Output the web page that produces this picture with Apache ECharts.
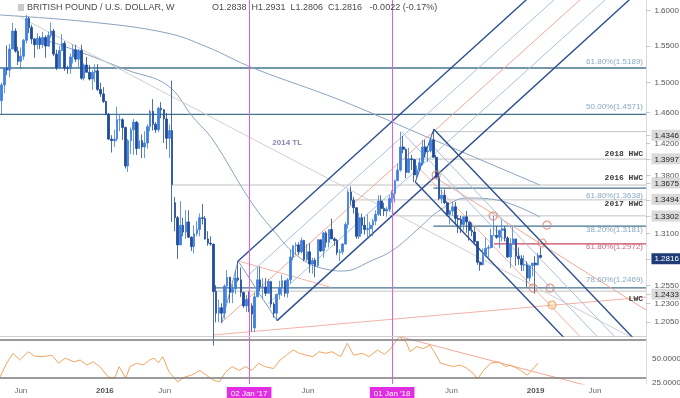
<!DOCTYPE html>
<html>
<head>
<meta charset="utf-8">
<title>GBP/USD weekly</title>
<script src="https://cdn.jsdelivr.net/npm/echarts@6.0.0/dist/echarts.min.js"></script>
<style>
  html, body { margin: 0; padding: 0; background: #fff; }
  #chart { width: 680px; height: 398px; }
</style>
</head>
<body>
<div id="chart"></div>
<script>
const FONT = '"Liberation Sans", Arial, sans-serif';
const MONO = '"Liberation Mono", monospace';
const CLEAR = 'rgba(0,0,0,0)';

// visible window
const xMin = '2015-04-09';
const xMax = '2019-10-09';
const priceMin = 1.1943;
const priceMax = 1.6144;

// weekly candles [open, high, low, close], first week starts 2015-04-13
const firstWeek = '2015-04-13';
const ohlc = [
  [1.4750,1.4990,1.4565,1.4960],[1.4960,1.5200,1.4850,1.5180],[1.5180,1.5498,1.5090,1.5160],
  [1.5160,1.5520,1.5060,1.5450],[1.5450,1.5815,1.5450,1.5700],[1.5700,1.5740,1.5400,1.5420],[1.5420,1.5480,1.5230,1.5280],
  [1.5280,1.5470,1.5170,1.5350],[1.5350,1.5590,1.5300,1.5570],[1.5570,1.5930,1.5530,1.5880],[1.5880,1.5900,1.5670,1.5750],[1.5750,1.5790,1.5520,1.5590],
  [1.5590,1.5600,1.5330,1.5510],[1.5510,1.5670,1.5450,1.5600],[1.5600,1.5630,1.5450,1.5510],[1.5510,1.5690,1.5460,1.5610],
  [1.5610,1.5640,1.5330,1.5490],[1.5490,1.5690,1.5480,1.5640],[1.5640,1.5820,1.5600,1.5700],[1.5700,1.5730,1.5350,1.5380],[1.5380,1.5440,1.5160,1.5190],
  [1.5190,1.5490,1.5190,1.5430],[1.5430,1.5660,1.5420,1.5530],[1.5530,1.5560,1.5150,1.5190],[1.5190,1.5220,1.5110,1.5180],
  [1.5180,1.5390,1.5110,1.5340],[1.5340,1.5510,1.5250,1.5440],[1.5440,1.5510,1.5270,1.5310],[1.5310,1.5450,1.5200,1.5430],
  [1.5430,1.5510,1.5030,1.5050],[1.5050,1.5250,1.5020,1.5230],[1.5230,1.5340,1.5130,1.5130],[1.5130,1.5230,1.5020,1.5040],[1.5040,1.5160,1.4895,1.5130],
  [1.5130,1.5240,1.5000,1.5150],[1.5150,1.5240,1.4880,1.4900],[1.4900,1.4990,1.4800,1.4840],[1.4840,1.4930,1.4720,1.4740],
  // 2016
  [1.4740,1.4750,1.4560,1.4570],[1.4570,1.4590,1.4240,1.4250],[1.4250,1.4300,1.4080,1.4230],[1.4230,1.4370,1.4150,1.4250],
  [1.4250,1.4670,1.4220,1.4500],[1.4500,1.4570,1.4350,1.4500],[1.4500,1.4520,1.4240,1.4400],[1.4400,1.4410,1.3880,1.3910],[1.3910,1.4250,1.3836,1.4230],
  [1.4230,1.4400,1.4060,1.4370],[1.4370,1.4510,1.4050,1.4470],[1.4470,1.4480,1.4050,1.4130],[1.4130,1.4460,1.4130,1.4230],
  [1.4230,1.4310,1.4010,1.4150],[1.4150,1.4350,1.4010,1.4200],[1.4200,1.4440,1.4130,1.4410],[1.4410,1.4630,1.4350,1.4610],
  [1.4610,1.4770,1.4360,1.4440],[1.4440,1.4470,1.4330,1.4370],[1.4370,1.4670,1.4340,1.4650],[1.4650,1.4730,1.4520,1.4630],[1.4630,1.4640,1.4200,1.4510],
  [1.4510,1.4590,1.4120,1.4260],[1.4260,1.4440,1.4010,1.4360],[1.4360,1.5018,1.3229,1.3680],[1.3460,1.3530,1.3120,1.3280],
  [1.3280,1.3300,1.2798,1.2960],[1.2960,1.3480,1.2960,1.3190],[1.3190,1.3280,1.3060,1.3110],[1.3110,1.3370,1.3030,1.3230],
  [1.3230,1.3370,1.3040,1.3050],[1.3050,1.3060,1.2890,1.2940],[1.2940,1.3190,1.2860,1.3090],[1.3090,1.3240,1.3060,1.3140],[1.3140,1.3330,1.3060,1.3280],
  [1.3280,1.3445,1.3200,1.3270],[1.3270,1.3300,1.3020,1.3030],[1.3030,1.3120,1.2950,1.2980],[1.2980,1.3060,1.2950,1.2970],
  [1.2970,1.2970,1.1841,1.2430],[1.2430,1.2500,1.2090,1.2190],[1.2190,1.2340,1.2090,1.2250],[1.2250,1.2300,1.2080,1.2190],[1.2190,1.2510,1.2130,1.2490],
  [1.2490,1.2670,1.2300,1.2590],[1.2590,1.2590,1.2300,1.2420],[1.2420,1.2510,1.2300,1.2460],[1.2460,1.2670,1.2400,1.2580],
  [1.2580,1.2775,1.2540,1.2560],[1.2560,1.2700,1.2370,1.2420],[1.2420,1.2420,1.2250,1.2270],[1.2270,1.2390,1.2200,1.2340],
  // 2017
  [1.2340,1.2430,1.2200,1.2270],[1.2270,1.2300,1.1990,1.2180],[1.2030,1.2415,1.1986,1.2370],[1.2370,1.2700,1.2370,1.2560],[1.2560,1.2710,1.2430,1.2480],
  [1.2480,1.2580,1.2350,1.2480],[1.2480,1.2580,1.2380,1.2410],[1.2410,1.2570,1.2410,1.2540],[1.2540,1.2550,1.2250,1.2290],
  [1.2290,1.2310,1.2140,1.2190],[1.2190,1.2400,1.2109,1.2400],[1.2400,1.2550,1.2340,1.2470],[1.2470,1.2620,1.2380,1.2550],
  [1.2550,1.2550,1.2370,1.2410],[1.2410,1.2580,1.2360,1.2560],[1.2560,1.2905,1.2520,1.2820],[1.2820,1.2950,1.2780,1.2950],
  [1.2950,1.2990,1.2850,1.2960],[1.2960,1.2990,1.2840,1.2880],[1.2880,1.3048,1.2860,1.3010],[1.3010,1.3020,1.2770,1.2790],[1.2790,1.2970,1.2770,1.2880],
  [1.2880,1.2980,1.2640,1.2740],[1.2740,1.2810,1.2630,1.2780],[1.2780,1.2810,1.2589,1.2720],[1.2720,1.3030,1.2700,1.3020],
  [1.3020,1.3020,1.2880,1.2890],[1.2890,1.3110,1.2810,1.3100],[1.3100,1.3120,1.2930,1.2990],[1.2990,1.3140,1.2930,1.3140],[1.3140,1.3268,1.3030,1.3030],
  [1.3030,1.3050,1.2950,1.3010],[1.3010,1.3030,1.2840,1.2870],[1.2870,1.2910,1.2774,1.2880],[1.2880,1.2980,1.2850,1.2970],
  [1.2970,1.3230,1.2960,1.3200],[1.3200,1.3620,1.3150,1.3590],[1.3590,1.3657,1.3430,1.3490],[1.3490,1.3530,1.3330,1.3400],
  [1.3400,1.3400,1.3030,1.3060],[1.3060,1.3340,1.3030,1.3280],[1.3280,1.3330,1.3090,1.3190],[1.3190,1.3290,1.3080,1.3140],[1.3140,1.3320,1.3030,1.3150],
  [1.3150,1.3230,1.3050,1.3190],[1.3190,1.3270,1.3060,1.3240],[1.3240,1.3370,1.3190,1.3320],[1.3320,1.3550,1.3300,1.3480],
  [1.3480,1.3550,1.3300,1.3390],[1.3390,1.3460,1.3300,1.3360],[1.3360,1.3410,1.3290,1.3380],[1.3380,1.3550,1.3350,1.3510],
  // 2018
  [1.3510,1.3610,1.3460,1.3570],[1.3570,1.3740,1.3460,1.3730],[1.3730,1.3940,1.3720,1.3860],[1.3860,1.4345,1.3840,1.4150],[1.4150,1.4290,1.4070,1.4120],
  [1.4120,1.4130,1.3760,1.3830],[1.3830,1.4140,1.3820,1.4000],[1.4000,1.4050,1.3860,1.3990],[1.3990,1.4000,1.3712,1.3800],
  [1.3800,1.3920,1.3750,1.3860],[1.3860,1.4010,1.3840,1.3950],[1.3950,1.4240,1.3920,1.4150],[1.4150,1.4240,1.4020,1.4090],
  [1.4090,1.4130,1.3960,1.4100],[1.4100,1.4240,1.4080,1.4240],[1.4240,1.4377,1.4010,1.4020],[1.4020,1.4050,1.3760,1.3770],[1.3770,1.3830,1.3490,1.3510],
  [1.3510,1.3620,1.3450,1.3550],[1.3550,1.3620,1.3440,1.3460],[1.3460,1.3480,1.3300,1.3320],[1.3320,1.3370,1.3200,1.3360],
  [1.3360,1.3470,1.3300,1.3410],[1.3410,1.3470,1.3200,1.3270],[1.3270,1.3310,1.3100,1.3260],[1.3260,1.3300,1.3100,1.3200],
  [1.3200,1.3290,1.3130,1.3290],[1.3290,1.3362,1.3100,1.3230],[1.3230,1.3230,1.3010,1.3130],[1.3130,1.3220,1.3060,1.3110],[1.3110,1.3170,1.2960,1.3000],
  [1.3000,1.3000,1.2730,1.2760],[1.2760,1.2770,1.2662,1.2730],[1.2730,1.2920,1.2730,1.2840],[1.2840,1.3043,1.2820,1.2920],
  [1.2920,1.2960,1.2790,1.2930],[1.2930,1.3150,1.2920,1.3070],[1.3070,1.3298,1.3070,1.3070],[1.3070,1.3180,1.3030,1.3050],
  [1.3050,1.3140,1.2920,1.3130],[1.3130,1.3257,1.3000,1.3150],[1.3150,1.3180,1.3000,1.3040],[1.3040,1.3060,1.2810,1.2820],[1.2820,1.3040,1.2695,1.2970],
  [1.2970,1.3175,1.2960,1.3030],[1.3030,1.3030,1.2720,1.2830],[1.2830,1.2930,1.2730,1.2800],[1.2800,1.2840,1.2660,1.2730],
  [1.2730,1.2840,1.2660,1.2730],[1.2730,1.2770,1.2477,1.2580],[1.2580,1.2700,1.2540,1.2720],[1.2720,1.2750,1.2600,1.2750],[1.2750,1.2830,1.2405,1.2730],
  // 2019
  [1.2730,1.2870,1.2720,1.2838],[1.2838,1.2931,1.2806,1.2816]
];

// weekly RSI
const rsiPoints = [
  ['2015-04-09',31],['2015-04-26',45.7],['2015-05-12',56],['2015-05-29',49],['2015-06-20',57.7],['2015-07-06',53],
  ['2015-07-28',52.5],['2015-08-19',54],['2015-09-05',45.6],['2015-09-22',51],['2015-10-14',47],['2015-10-30',49],
  ['2015-11-16',43.7],['2015-12-02',47],['2015-12-19',42],['2016-01-10',31],['2016-01-26',30],['2016-02-06',42],
  ['2016-02-23',30],['2016-03-05',42],['2016-03-22',45.6],['2016-04-07',43.7],['2016-04-24',49],['2016-05-05',51],
  ['2016-05-16',46],['2016-05-27',52.5],['2016-06-12',36.6],['2016-07-04',26],['2016-07-22',31],['2016-08-08',33],
  ['2016-08-30',38],['2016-09-15',33],['2016-10-02',28],['2016-10-18',26],['2016-11-04',36.6],['2016-11-20',42],
  ['2016-12-07',38],['2016-12-24',42],['2017-01-09',38],['2017-01-26',45.6],['2017-02-11',42],['2017-03-05',40],
  ['2017-03-22',49],['2017-04-07',54],['2017-04-24',59.5],['2017-05-10',56],['2017-05-27',54],['2017-06-13',52.5],
  ['2017-06-29',57.7],['2017-07-16',56],['2017-08-01',57.7],['2017-08-23',52.5],['2017-09-09',66.6],['2017-09-25',54],
  ['2017-10-17',56],['2017-11-03',52.5],['2017-11-25',59.5],['2017-12-12',55],['2017-12-28',61],['2018-01-19',73.5],
  ['2018-02-05',68],['2018-02-16',57.7],['2018-03-04',63],['2018-03-21',61],['2018-04-07',64.7],['2018-04-18',57.7],
  ['2018-05-04',45.6],['2018-05-21',43.7],['2018-06-06',42],['2018-06-23',43.7],['2018-07-09',40.5],['2018-07-26',35],
  ['2018-08-06',29],['2018-08-22',38],['2018-09-08',45.6],['2018-09-30',47],['2018-10-17',42],['2018-10-28',43.7],
  ['2018-11-13',40.5],['2018-11-24',38],['2018-12-11',33],['2018-12-22',38],['2019-01-07',45.6]
];
const rsiTrend = [['2018-01-21',73.5],['2019-05-12',22]];

// moving averages
const maSlow = [['2015-04-09',1.5928],['2015-11-24',1.5829],['2016-06-07',1.5673],['2016-09-17',1.5478],['2017-01-12',1.5189],
  ['2017-08-21',1.4759],['2018-03-13',1.4315],['2019-01-12',1.3675]];
const maFast = [['2015-07-20',1.5603],['2015-11-06',1.5394],['2016-02-26',1.5161],['2016-06-07',1.4959],['2016-08-12',1.4535],
  ['2016-10-02',1.4238],['2017-01-04',1.3492],['2017-03-04',1.3134],['2017-05-12',1.2808],['2017-07-27',1.2671],
  ['2017-08-29',1.2660],['2017-11-13',1.2785],['2018-01-03',1.2900],['2018-03-05',1.3134],['2018-05-03',1.3372],
  ['2018-07-11',1.3517],['2018-09-25',1.3492],['2019-01-12',1.3288]];

// trendlines and pitchforks [date, price]
const tl2014 = [['2015-05-30',1.5900],['2019-10-09',1.1847]];
const tl2014Label = ['2017-04-09',1.4200];
const pf1Upper = [['2016-12-05',1.2775],['2019-01-05',1.6290]];
const pf1Lower = [['2017-03-14',1.2109],['2019-09-24',1.6290]];
const pf1Median = [['2016-10-25',1.2094],['2019-05-22',1.6290]];
const pf1HalfUp = [['2016-12-31',1.2614],['2019-03-17',1.6290]];
const pf1HalfDn = [['2017-02-18',1.2289],['2019-07-25',1.6290]];
const pf1Handle = [['2016-10-25',1.2094],['2016-12-05',1.2775],['2017-03-14',1.2109]];
const pf2Upper = [['2018-04-17',1.4377],['2019-09-24',1.1844]];
const pf2Lower = [['2018-03-01',1.3712],['2019-04-01',1.1847]];
const pf2Median = [['2018-01-25',1.4345],['2019-06-27',1.1850]];
const pf2HalfUp = [['2018-04-05',1.4208],['2019-08-10',1.1850]];
const pf2HalfDn = [['2018-03-12',1.3876],['2019-05-14',1.1850]];
const pf2Handle = [['2018-04-17',1.4377],['2018-03-01',1.3712]];
const tlDown2018 = [['2018-04-23',1.3761],['2019-10-09',1.2225]];
const tlDown2016 = [['2016-12-05',1.2775],['2017-07-27',1.2479]];
const tlUp2016 = [['2016-10-02',1.1954],['2019-10-09',1.2368]];

const pivots = [['2018-04-23',1.3798],['2018-09-15',1.3300],['2019-01-30',1.3193],['2019-01-18',1.2982],
  ['2018-12-26',1.2468],['2019-02-07',1.2468]];
const pivotTarget = ['2019-02-12',1.2279];

// horizontal levels
const levelPrices = [1.5189, 1.4571, 1.4346, 1.3997, 1.3675, 1.3638, 1.3494, 1.3302, 1.3181, 1.2972, 1.2469, 1.2433];
const levelStarts = ['2015-04-09','2015-04-09','2018-04-16','2018-01-22','2016-06-20','2018-04-16',
  '2017-09-18','2017-12-25','2018-04-16','2018-09-17','2016-10-03','2016-10-03'];
const levelKinds = ['fib','fib','gray','gray','gray','fib','gray','gray','fib','red','fib','gray'];
const fibLevels = [[61.8,1.5189],[50.0,1.4571],[61.8,1.3638],[38.2,1.3181],[61.8,1.2972],[78.6,1.2469]];
const fibSides = ['top','top','bottom','bottom','bottom','top'];
const namedLevels = [['2018 HWC',1.3997,'top'],['2016 HWC',1.3675,'top'],['2017 HWC',1.3494,'bottom'],['LWC',1.2433,'bottom']];

// price scale tags
const priceTicks = [1.6, 1.55, 1.5, 1.46, 1.42, 1.38, 1.31, 1.255, 1.23, 1.205];
const boxedTags = [1.4346, 1.3997, 1.3675, 1.3494, 1.3302, 1.2433];

// time labels
const xTickDates = ['2015-06-01','2016-01-01','2016-06-01','2017-01-02','2017-06-01','2018-01-01','2018-06-01','2019-01-01','2019-06-01'];
const xTickLabels = ['Jun','2016','Jun',"02 Jan '17",'Jun',"01 Jan '18",'Jun','2019','Jun'];
const xTickKinds = ['','yr','','hl','','hl','','yr',''];
const markedDates = ['2017-01-02','2018-01-01'];

const t = s => Date.parse(s + 'T00:00:00Z');
const pts = arr => arr.map(p => [t(p[0]), p[1]]);

const weeks = ohlc.map((_, i) => t(firstWeek) + i * 7 * 864e5);

const last = ohlc[ohlc.length - 1];
const prevClose = ohlc[ohlc.length - 2][3];
const chg = last[3] - prevClose;
const headerValues = 'O' + last[0].toFixed(4) + '  H' + last[1].toFixed(4) + '  L' + last[2].toFixed(4) +
  '  C' + last[3].toFixed(4) + '   ' + (chg >= 0 ? '+' : '') + chg.toFixed(4) + ' (' + (chg / prevClose * 100).toFixed(2) + '%)';

function seg(data, color, width, smooth) {
  return { type: 'line', data: pts(data), symbol: 'none', silent: true, smooth: smooth || false, z: 1,
    lineStyle: { color: color, width: width } };
}

// price scale tag: small tick dash + value (optionally boxed)
function priceTag(p, kind) {
  const look = {
    plain: { color: '#555' },
    box: { color: '#222', backgroundColor: '#dadada' },
    last: { color: '#fff', backgroundColor: '#1f3c78' }
  }[kind];
  return { yAxis: p, lineStyle: { color: CLEAR },
    label: { show: true, position: 'end', distance: 0,
      formatter: '{tk|–}{v|' + p.toFixed(4) + '}', fontSize: 8, fontFamily: FONT,
      rich: {
        tk: { color: '#9a9a9a', fontSize: 8, fontFamily: FONT, padding: [0, 1, 0, 0] },
        v: Object.assign({ fontSize: 8, fontFamily: FONT, padding: [2, 4, 1, 3] }, look)
      } } };
}

function levelText(p, text, side, look) {
  return { yAxis: p, lineStyle: { color: CLEAR },
    label: Object.assign({ show: true, position: side === 'top' ? 'insideEndTop' : 'insideEndBottom',
      distance: 1, padding: [0, 2, 0, 0], formatter: text, fontSize: 8, fontFamily: FONT }, look) };
}

const levelColors = { fib: '#44738f', gray: '#c2c2c2', red: '#c9485f' };

const series = [];
levelPrices.forEach((p, i) => {
  series.push(seg([[levelStarts[i], p], [xMax, p]], levelColors[levelKinds[i]], levelKinds[i] === 'gray' ? 1 : 1.3));
});
series.push(seg(maSlow, '#8aa3bf', 1, 0.4));
series.push(seg(maFast, '#8aa3bf', 1, 0.4));
const tlSeries = seg(tl2014, '#cfcfcf', 1);
tlSeries.markPoint = { silent: true, symbol: 'circle', symbolSize: 0,
  data: [{ coord: [t(tl2014Label[0]), tl2014Label[1]], label: { show: true, position: 'inside', formatter: '2014 TL',
    color: '#8c82b4', fontWeight: 'bold', fontSize: 8, fontFamily: FONT } }] };
series.push(tlSeries);
series.push(seg(tlUp2016, '#f2b2a6', 1));
series.push(seg(tlDown2016, '#f2b2a6', 1));
series.push(seg(tlDown2018, '#f2a89a', 1));
series.push(seg(pf1Median, '#f2a89a', 1));
series.push(seg(pf1HalfUp, '#a9c0de', 1));
series.push(seg(pf1HalfDn, '#a9c0de', 1));
series.push(seg(pf1Handle, '#7f9cc8', 1));
series.push(seg(pf1Upper, '#2d4f92', 1.4));
series.push(seg(pf1Lower, '#2d4f92', 1.4));
series.push(seg(pf2Median, '#a9c0de', 1));
series.push(seg(pf2HalfUp, '#a9c0de', 1));
series.push(seg(pf2HalfDn, '#f2b2a6', 1));
series.push(seg(pf2Handle, '#2d4f92', 1));
series.push(seg(pf2Upper, '#2d4f92', 1.4));
series.push(seg(pf2Lower, '#2d4f92', 1.4));

const tagLines = [];
priceTicks.forEach(p => tagLines.push(priceTag(p, 'plain')));
boxedTags.forEach(p => tagLines.push(priceTag(p, 'box')));
tagLines.push(priceTag(last[3], 'last'));
fibLevels.forEach((f, i) => {
  const red = f[1] === 1.2972;
  tagLines.push(levelText(f[1], f[0].toFixed(2) + '%(' + f[1].toFixed(4) + ')', fibSides[i],
    { color: red ? '#d06a7c' : '#86a9c3' }));
});
namedLevels.forEach(n => tagLines.push(levelText(n[1], n[0], n[2],
  { color: '#3a3a3a', fontWeight: 'bold', fontFamily: MONO })));
markedDates.forEach(d => tagLines.push({ xAxis: t(d), lineStyle: { color: '#e35ce3', width: 1 }, label: { show: false } }));

series.push({
  type: 'candlestick', z: 3,
  data: weeks.map((d, i) => [d, ohlc[i][0], ohlc[i][3], ohlc[i][2], ohlc[i][1]]),
  encode: { x: 0, y: [1, 2, 3, 4] },
  barWidth: 2.2,
  itemStyle: { color: '#3f7fdc', color0: '#1f4a98', borderColor: '#3f7fdc', borderColor0: '#1f4a98', borderWidth: 0.8 },
  markLine: { silent: true, symbol: ['none', 'none'], animation: false,
    lineStyle: { type: 'solid' }, data: tagLines }
});

series.push({
  type: 'scatter', z: 4, silent: true, symbol: 'circle', symbolSize: 8,
  itemStyle: { color: 'rgba(255,255,255,0)', borderColor: '#d9826f', borderWidth: 1.2 },
  data: pts(pivots).concat([{ value: [t(pivotTarget[0]), pivotTarget[1]],
    itemStyle: { color: 'rgba(246,196,120,0.35)', borderColor: '#e3a45a' } }])
});

series.push(Object.assign(seg(rsiTrend, '#f2a89a', 1), { xAxisIndex: 1, yAxisIndex: 1 }));
series.push({
  type: 'line', xAxisIndex: 1, yAxisIndex: 1, data: pts(rsiPoints), symbol: 'none', silent: true, z: 3,
  lineStyle: { color: '#f0a55e', width: 1 },
  markLine: { silent: true, symbol: ['none', 'none'], animation: false, lineStyle: { type: 'solid' },
    data: [
      { yAxis: 70, lineStyle: { color: '#7a7a7a', width: 1.6 }, label: { show: false } },
      { yAxis: 30, lineStyle: { color: '#7a7a7a', width: 1.6 }, label: { show: false } },
      { yAxis: 50, lineStyle: { color: CLEAR }, label: { show: true, position: 'end', distance: 2, padding: [0, 0, 0, 4],
        formatter: '50.0000', color: '#555', fontSize: 8, fontFamily: FONT } },
      { yAxis: 25, lineStyle: { color: CLEAR }, label: { show: true, position: 'end', distance: 2, padding: [0, 0, 0, 4],
        formatter: '25.0000', color: '#555', fontSize: 8, fontFamily: FONT } }
    ].concat(markedDates.map(d => ({ xAxis: t(d), lineStyle: { color: '#e35ce3', width: 1 }, label: { show: false } })))
  }
});

function xLabel(value) {
  for (let i = 0; i < xTickDates.length; i++) {
    if (Math.abs(t(xTickDates[i]) - value) < 3 * 864e5) {
      return xTickKinds[i] ? '{' + xTickKinds[i] + '|' + xTickLabels[i] + '}' : xTickLabels[i];
    }
  }
  return '';
}

const chart = echarts.init(document.getElementById('chart'), null, { renderer: 'canvas' });
chart.setOption({
  animation: false,
  backgroundColor: '#ffffff',
  title: [
    { text: 'BRITISH POUND / U.S. DOLLAR, W', left: 27, top: 3, padding: 0,
      textStyle: { fontSize: 9, fontWeight: 'normal', color: '#4a4a4a', fontFamily: FONT } },
    { text: headerValues, left: 212, top: 3, padding: 0,
      textStyle: { fontSize: 9, fontWeight: 'normal', color: '#4a4a4a', fontFamily: FONT } }
  ],
  graphic: [{ type: 'rect', shape: { x: 18, y: 4, width: 6, height: 7 }, style: { fill: '#c9c9c9' } }],
  grid: [
    { left: 0, right: 34, top: 0, height: 336, containLabel: false, outerBoundsMode: 'none' },
    { left: 0, right: 34, top: 337, height: 47, containLabel: false, outerBoundsMode: 'none' }
  ],
  xAxis: [
    { type: 'value', gridIndex: 0, min: t(xMin), max: t(xMax),
      axisLine: { show: true, lineStyle: { color: '#cfcfcf' } }, axisTick: { show: false },
      axisLabel: { show: false }, splitLine: { show: false } },
    { type: 'value', gridIndex: 1, min: t(xMin), max: t(xMax),
      axisLine: { show: false }, axisTick: { show: false }, splitLine: { show: false },
      axisLabel: { customValues: xTickDates.map(t), formatter: xLabel, fontSize: 8, color: '#6a6a6a', margin: 3,
        fontFamily: FONT,
        rich: {
          hl: { backgroundColor: '#e22ee2', color: '#fff', padding: [3, 4, 2, 4], fontSize: 8, fontFamily: FONT },
          yr: { fontWeight: 'bold', color: '#555', fontSize: 8, fontFamily: FONT }
        } } }
  ],
  yAxis: [
    { type: 'log', gridIndex: 0, position: 'right', min: priceMin, max: priceMax,
      axisLine: { show: true, lineStyle: { color: '#dadada' } }, axisTick: { show: false },
      axisLabel: { show: false }, splitLine: { show: false } },
    { type: 'value', gridIndex: 1, position: 'right', min: 23.7, max: 73.2,
      axisLine: { show: true, lineStyle: { color: '#dadada' } }, axisTick: { show: false },
      axisLabel: { show: false }, splitLine: { show: false } }
  ],
  series: series
});
</script>
</body>
</html>
